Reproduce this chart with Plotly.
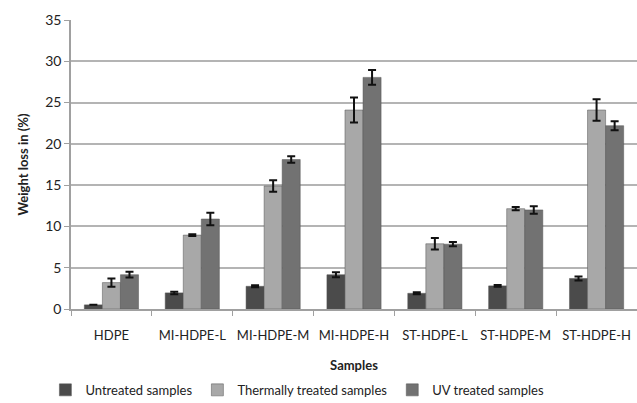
import plotly.graph_objects as go

samples = ["HDPE", "MI-HDPE-L", "MI-HDPE-M", "MI-HDPE-H", "ST-HDPE-L", "ST-HDPE-M", "ST-HDPE-H"]

untreated = [0.5, 1.95, 2.75, 4.15, 1.9, 2.8, 3.7]
untreated_err = [0.0, 0.15, 0.12, 0.3, 0.12, 0.12, 0.25]

thermal = [3.2, 8.95, 14.9, 24.1, 7.9, 12.15, 24.1]
thermal_err = [0.5, 0.1, 0.7, 1.5, 0.7, 0.2, 1.3]

uv = [4.15, 10.9, 18.1, 28.05, 7.85, 12.0, 22.2]
uv_err = [0.35, 0.75, 0.4, 0.9, 0.25, 0.45, 0.55]

series = [
    ("Untreated samples", untreated, untreated_err, "#4b4b4b"),
    ("Thermally treated samples", thermal, thermal_err, "#a8a8a8"),
    ("UV treated samples", uv, uv_err, "#727272"),
]

FONT = "Lato, sans-serif"

fig = go.Figure()
for name, vals, errs, color in series:
    fig.add_trace(go.Bar(
        name=name, x=samples, y=vals,
        marker=dict(color=color, line=dict(color="#555555", width=0.5)),
        error_y=dict(type="data", array=errs, visible=True,
                     color="#111111", thickness=2, width=4),
    ))

fig.update_layout(
    width=637, height=403,
    margin=dict(l=71, r=0, t=20, b=94, autoexpand=False),
    paper_bgcolor="white", plot_bgcolor="white",
    barmode="group", bargap=0.33, bargroupgap=0,
    font=dict(family=FONT, size=13, color="#222222"),
    showlegend=True,
    legend=dict(orientation="h", x=0.4, xanchor="center", y=-0.28, yanchor="middle",
                font=dict(size=13), itemwidth=30, traceorder="normal",
                tracegroupgap=0),
)
fig.update_xaxes(
    title=dict(text="<b>Samples</b>", font=dict(size=13), standoff=19),
    showline=True, linecolor="#a0a0a0", linewidth=1.5,
    ticks="outside", tickson="boundaries", ticklen=5, tickcolor="#a0a0a0",
    tickfont=dict(size=13), tickangle=0, ticklabelstandoff=14,
    automargin=False,
)
fig.update_yaxes(
    title=dict(text="<b>Weight loss in (%)</b>", font=dict(size=13), standoff=14),
    range=[0, 35], dtick=5,
    showgrid=True, gridcolor="#b4b4b4", gridwidth=1.5,
    showline=True, linecolor="#a0a0a0", linewidth=1.5,
    ticks="outside", ticklen=5, tickcolor="#a0a0a0",
    tickfont=dict(size=14), zeroline=False, automargin=False,
)

fig.write_html("out.html")
